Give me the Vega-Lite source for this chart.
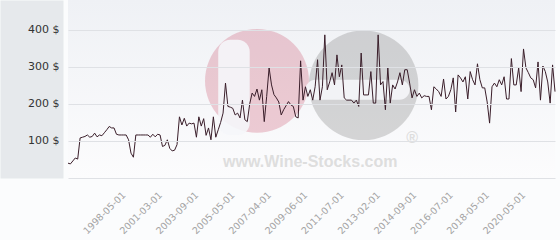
{
  "$schema": "https://vega.github.io/schema/vega-lite/v6.json",
  "autosize": {"type": "none"},
  "padding": {"left": 68, "top": 0, "right": 5, "bottom": 62},
  "width": 487,
  "height": 178,
  "background": "#fbfcfd",
  "config": {
    "font": "DejaVu Sans",
    "view": {"stroke": null, "fill": {"gradient": "linear", "x1": 0, "y1": 0, "x2": 0, "y2": 1, "stops": [{"offset": 0, "color": "#eff1f5"}, {"offset": 1, "color": "#fcfcfd"}]}}
  },
  "datasets": {
    "prices": [
      {"date": "1996-06-01", "price": 40}, {"date": "1996-07-01", "price": 38}, {"date": "1996-08-01", "price": 46}, {"date": "1996-09-01", "price": 54}, {"date": "1996-10-01", "price": 51},
      {"date": "1996-11-01", "price": 108}, {"date": "1996-12-01", "price": 110}, {"date": "1997-01-01", "price": 112}, {"date": "1997-02-01", "price": 116}, {"date": "1997-03-01", "price": 110},
      {"date": "1997-04-01", "price": 112}, {"date": "1997-05-01", "price": 121}, {"date": "1997-06-01", "price": 111}, {"date": "1997-07-01", "price": 116}, {"date": "1997-08-01", "price": 114},
      {"date": "1997-09-01", "price": 122}, {"date": "1997-10-01", "price": 130}, {"date": "1997-11-01", "price": 139}, {"date": "1997-12-01", "price": 135}, {"date": "1998-01-01", "price": 135},
      {"date": "1998-02-01", "price": 118}, {"date": "1998-03-01", "price": 116}, {"date": "1998-04-01", "price": 116}, {"date": "1998-05-01", "price": 116},
      {"date": "1998-07-01", "price": 116}, {"date": "1998-09-01", "price": 103}, {"date": "1998-12-01", "price": 67}, {"date": "1999-02-01", "price": 56}, {"date": "1999-04-01", "price": 116},
      {"date": "1999-06-01", "price": 116}, {"date": "1999-09-01", "price": 116}, {"date": "1999-11-01", "price": 116}, {"date": "2000-01-01", "price": 116}, {"date": "2000-03-01", "price": 116},
      {"date": "2000-06-01", "price": 110}, {"date": "2000-08-01", "price": 118}, {"date": "2000-10-01", "price": 111}, {"date": "2000-12-01", "price": 118}, {"date": "2001-03-01", "price": 116},
      {"date": "2001-05-01", "price": 85}, {"date": "2001-07-01", "price": 88}, {"date": "2001-09-01", "price": 103}, {"date": "2001-11-01", "price": 80}, {"date": "2002-01-01", "price": 73},
      {"date": "2002-03-01", "price": 75}, {"date": "2002-05-01", "price": 90}, {"date": "2002-07-01", "price": 165}, {"date": "2002-09-01", "price": 143}, {"date": "2002-11-01", "price": 161},
      {"date": "2003-01-01", "price": 140}, {"date": "2003-03-01", "price": 148}, {"date": "2003-05-01", "price": 146}, {"date": "2003-07-01", "price": 148}, {"date": "2003-09-01", "price": 110},
      {"date": "2003-10-01", "price": 165}, {"date": "2003-11-01", "price": 140}, {"date": "2004-01-01", "price": 160}, {"date": "2004-02-01", "price": 115}, {"date": "2004-03-01", "price": 135},
      {"date": "2004-05-01", "price": 103}, {"date": "2004-06-01", "price": 165}, {"date": "2004-07-01", "price": 110}, {"date": "2004-09-01", "price": 130}, {"date": "2004-10-01", "price": 150},
      {"date": "2004-11-01", "price": 175}, {"date": "2005-01-01", "price": 256}, {"date": "2005-02-01", "price": 193}, {"date": "2005-03-01", "price": 191}, {"date": "2005-05-01", "price": 188},
      {"date": "2005-07-01", "price": 170}, {"date": "2005-08-01", "price": 175}, {"date": "2005-10-01", "price": 162}, {"date": "2005-11-01", "price": 210}, {"date": "2006-01-01", "price": 157},
      {"date": "2006-02-01", "price": 152}, {"date": "2006-04-01", "price": 200}, {"date": "2006-05-01", "price": 229}, {"date": "2006-07-01", "price": 220}, {"date": "2006-08-01", "price": 240},
      {"date": "2006-10-01", "price": 210}, {"date": "2006-11-01", "price": 238}, {"date": "2007-01-01", "price": 152}, {"date": "2007-02-01", "price": 220}, {"date": "2007-04-01", "price": 297},
      {"date": "2007-06-01", "price": 251}, {"date": "2007-08-01", "price": 225}, {"date": "2007-09-01", "price": 216}, {"date": "2007-11-01", "price": 205}, {"date": "2008-01-01", "price": 170},
      {"date": "2008-03-01", "price": 184}, {"date": "2008-04-01", "price": 195}, {"date": "2008-06-01", "price": 206}, {"date": "2008-08-01", "price": 197}, {"date": "2008-10-01", "price": 193},
      {"date": "2008-11-01", "price": 165}, {"date": "2009-01-01", "price": 162}, {"date": "2009-03-01", "price": 316}, {"date": "2009-05-01", "price": 210}, {"date": "2009-06-01", "price": 246},
      {"date": "2009-08-01", "price": 220}, {"date": "2009-09-01", "price": 238}, {"date": "2009-11-01", "price": 210}, {"date": "2010-01-01", "price": 246}, {"date": "2010-02-01", "price": 319},
      {"date": "2010-04-01", "price": 210}, {"date": "2010-06-01", "price": 246}, {"date": "2010-07-01", "price": 386}, {"date": "2010-09-01", "price": 238}, {"date": "2010-11-01", "price": 259},
      {"date": "2010-12-01", "price": 284}, {"date": "2011-02-01", "price": 251}, {"date": "2011-04-01", "price": 332}, {"date": "2011-05-01", "price": 273}, {"date": "2011-07-01", "price": 305},
      {"date": "2011-08-01", "price": 216}, {"date": "2011-09-01", "price": 210}, {"date": "2011-11-01", "price": 210}, {"date": "2011-12-01", "price": 210}, {"date": "2012-01-01", "price": 202},
      {"date": "2012-02-01", "price": 210}, {"date": "2012-04-01", "price": 193}, {"date": "2012-05-01", "price": 337}, {"date": "2012-06-01", "price": 224}, {"date": "2012-07-01", "price": 224},
      {"date": "2012-09-01", "price": 224}, {"date": "2012-10-01", "price": 287}, {"date": "2012-11-01", "price": 202}, {"date": "2012-12-01", "price": 202}, {"date": "2013-02-01", "price": 386},
      {"date": "2013-03-01", "price": 251}, {"date": "2013-04-01", "price": 260}, {"date": "2013-06-01", "price": 184}, {"date": "2013-07-01", "price": 297}, {"date": "2013-08-01", "price": 202},
      {"date": "2013-09-01", "price": 251}, {"date": "2013-11-01", "price": 240}, {"date": "2013-12-01", "price": 259}, {"date": "2014-01-01", "price": 284}, {"date": "2014-02-01", "price": 251},
      {"date": "2014-04-01", "price": 292}, {"date": "2014-05-01", "price": 292}, {"date": "2014-06-01", "price": 256}, {"date": "2014-07-01", "price": 216}, {"date": "2014-09-01", "price": 238},
      {"date": "2014-10-01", "price": 220}, {"date": "2014-12-01", "price": 229}, {"date": "2015-01-01", "price": 216}, {"date": "2015-03-01", "price": 222}, {"date": "2015-04-01", "price": 220},
      {"date": "2015-06-01", "price": 220}, {"date": "2015-07-01", "price": 184}, {"date": "2015-09-01", "price": 246}, {"date": "2015-10-01", "price": 240}, {"date": "2015-12-01", "price": 233},
      {"date": "2016-01-01", "price": 220}, {"date": "2016-03-01", "price": 267}, {"date": "2016-04-01", "price": 213}, {"date": "2016-06-01", "price": 220}, {"date": "2016-07-01", "price": 238},
      {"date": "2016-08-01", "price": 270}, {"date": "2016-10-01", "price": 178}, {"date": "2016-11-01", "price": 278}, {"date": "2017-01-01", "price": 270}, {"date": "2017-02-01", "price": 259},
      {"date": "2017-04-01", "price": 273}, {"date": "2017-05-01", "price": 213}, {"date": "2017-07-01", "price": 287}, {"date": "2017-08-01", "price": 265}, {"date": "2017-10-01", "price": 251},
      {"date": "2017-11-01", "price": 308}, {"date": "2018-01-01", "price": 265}, {"date": "2018-02-01", "price": 243}, {"date": "2018-04-01", "price": 243}, {"date": "2018-05-01", "price": 205},
      {"date": "2018-07-01", "price": 148}, {"date": "2018-08-01", "price": 246}, {"date": "2018-10-01", "price": 256}, {"date": "2018-12-01", "price": 246}, {"date": "2019-01-01", "price": 265},
      {"date": "2019-03-01", "price": 251}, {"date": "2019-05-01", "price": 273}, {"date": "2019-06-01", "price": 213}, {"date": "2019-08-01", "price": 213}, {"date": "2019-10-01", "price": 322},
      {"date": "2019-11-01", "price": 251}, {"date": "2020-01-01", "price": 251}, {"date": "2020-02-01", "price": 297}, {"date": "2020-04-01", "price": 233}, {"date": "2020-05-01", "price": 348},
      {"date": "2020-06-01", "price": 297}, {"date": "2020-07-01", "price": 284}, {"date": "2020-08-01", "price": 270}, {"date": "2020-09-01", "price": 265}, {"date": "2020-10-01", "price": 243},
      {"date": "2020-11-01", "price": 313}, {"date": "2020-12-01", "price": 210}, {"date": "2021-01-01", "price": 302}, {"date": "2021-02-01", "price": 287}, {"date": "2021-03-01", "price": 259},
      {"date": "2021-04-01", "price": 202}, {"date": "2021-05-01", "price": 305}, {"date": "2021-06-01", "price": 233}
    ]
  },
  "data": {"name": "prices"},
  "encoding": {
    "x": {
      "field": "date", "type": "ordinal",
      "scale": {"type": "point", "padding": 0},
      "axis": {
        "title": null,
        "values": ["1998-05-01", "2001-03-01", "2003-09-01", "2005-05-01", "2007-04-01", "2009-06-01", "2011-07-01", "2013-02-01", "2014-09-01", "2016-07-01", "2018-05-01", "2020-05-01"],
        "labelAngle": -45, "labelAlign": "right", "labelBaseline": "middle", "labelPadding": 15,
        "labelColor": "#a3a3a3", "labelFontSize": 9.5, "ticks": false, "domain": false, "grid": false
      }
    }
  },
  "resolve": {"axis": {"y": "independent"}},
  "layer": [
    {
      "data": {"values": [{"date": "2012-06-01", "price": 250}]},
      "mark": {"type": "point", "shape": "circle", "filled": true, "size": 12000, "color": "#7d7d7d", "opacity": 0.3},
      "encoding": {
        "y": {
          "field": "price", "type": "quantitative",
          "scale": {"domain": [0, 480], "nice": false},
          "axis": {
            "orient": "left", "title": null, "labels": false, "ticks": false, "grid": false, "zindex": 0,
            "domain": true, "domainColor": "#e6e9ec", "domainWidth": 63, "domainCap": "butt", "offset": 36.5
          }
        }
      }
    },
    {
      "data": {"values": [{"date": "2006-08-01", "price": 262}]},
      "mark": {"type": "point", "shape": "circle", "filled": true, "size": 10800, "color": "#c4314d", "opacity": 0.23},
      "encoding": {"y": {"field": "price", "type": "quantitative", "axis": null}}
    },
    {
      "data": {"values": [
        {"date": "2004-09-01", "date2": "2006-04-01", "price": 373, "price2": 116},
        {"date": "2009-06-01", "date2": "2014-06-01", "price": 265, "price2": 211}
      ]},
      "mark": {"type": "rect", "color": "#f5f6f9", "opacity": 0.9, "cornerRadius": 12},
      "encoding": {
        "x2": {"field": "date2"},
        "y": {"field": "price", "type": "quantitative", "axis": null},
        "y2": {"field": "price2"}
      }
    },
    {
      "data": {"values": [{"date": "2009-09-01", "price": 43, "label": "www.Wine-Stocks.com"}, {"date": "2014-07-01", "price": 108, "label": "®"}]},
      "mark": {"type": "text", "font": "Liberation Sans", "fontWeight": "bold", "fontSize": 16, "color": "#dedede"},
      "encoding": {"y": {"field": "price", "type": "quantitative", "axis": null}, "text": {"field": "label"}}
    },
    {
      "mark": {"type": "line", "color": "#3a1e2a", "strokeWidth": 1},
      "encoding": {
        "y": {
          "field": "price", "type": "quantitative",
          "axis": {
            "orient": "left", "title": null, "values": [0, 100, 200, 300, 400], "zindex": 1,
            "labelExpr": "datum.value == 0 ? '' : datum.value + ' $'",
            "labelColor": "#333333", "labelFontSize": 11, "ticks": false, "domain": false,
            "labelPadding": 9,
            "grid": true, "gridColor": "#dfe1e5", "gridWidth": 1
          }
        }
      }
    }
  ]
}
